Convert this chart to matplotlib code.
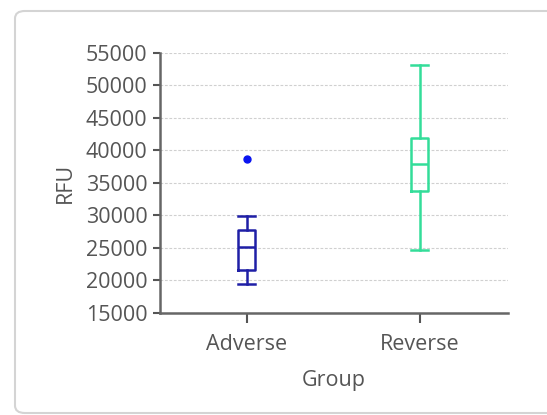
import matplotlib.pyplot as plt
from matplotlib.patches import FancyBboxPatch

plt.rcParams['font.family'] = ['Open Sans', 'DejaVu Sans']

groups = ["Adverse", "Reverse"]
whisker_low = [19400, 24700]
q1 = [21600, 33800]
median = [25100, 37900]
q3 = [27700, 41800]
whisker_high = [29900, 53150]
outliers = [[38600], []]
colors = ["#1f1fa6", "#33dd99"]
flier_colors = ["#0a14f0", "#33dd99"]

yticks = [15000, 20000, 25000, 30000, 35000, 40000, 45000, 50000, 55000]

fig = plt.figure(figsize=(5.47, 4.15), dpi=100)

# rounded card behind the chart
card = FancyBboxPatch((15 / 547, 2 / 415), 560 / 547, 402 / 415,
                      boxstyle="round,pad=0,rounding_size=0.018",
                      transform=fig.transFigure, facecolor="white",
                      edgecolor="#d4d4d4", linewidth=1.5, zorder=-1)
fig.patches.append(card)

ax = fig.add_axes([160 / 547, 1 - 313 / 415, 348 / 547, 260.5 / 415])
ax.set_facecolor("none")

for i, g in enumerate(groups):
    stats = [{
        "label": g,
        "whislo": whisker_low[i],
        "q1": q1[i],
        "med": median[i],
        "q3": q3[i],
        "whishi": whisker_high[i],
        "fliers": outliers[i],
    }]
    c = colors[i]
    ax.bxp(stats, positions=[i + 1], widths=0.1, showfliers=True,
           boxprops=dict(color=c, linewidth=1.8),
           medianprops=dict(color=c, linewidth=1.8),
           whiskerprops=dict(color=c, linewidth=1.8),
           capprops=dict(color=c, linewidth=1.8),
           capwidths=0.1,
           flierprops=dict(marker="o", markersize=5, markerfacecolor=flier_colors[i],
                           markeredgecolor=flier_colors[i]))

ax.set_xlim(0.5, 2.51)
ax.set_ylim(15000, 55000)
ax.set_yticks(yticks)
ax.set_yticklabels([str(v) for v in yticks])
ax.set_xticks([1, 2])
ax.set_xticklabels(groups)

ax.yaxis.grid(True, linestyle=(0, (2.5, 1.5)), color="#d0d0d0", linewidth=0.8)
ax.set_axisbelow(True)

for side in ["top", "right"]:
    ax.spines[side].set_visible(False)
for side in ["left", "bottom"]:
    ax.spines[side].set_color("#666666")
    ax.spines[side].set_linewidth(1.8)

ax.tick_params(axis="y", colors="#555555", labelsize=15.5, length=5, width=1.5, pad=4,
               labelcolor="#555555")
ax.tick_params(axis="x", colors="#555555", labelsize=15.5, length=7, width=1.5, pad=8,
               labelcolor="#555555")

ax.set_ylabel("RFU", fontsize=15.5, color="#555555", labelpad=7)
ax.set_xlabel("Group", fontsize=15.5, color="#555555", labelpad=11)

fig.savefig("out.png", dpi=100)
